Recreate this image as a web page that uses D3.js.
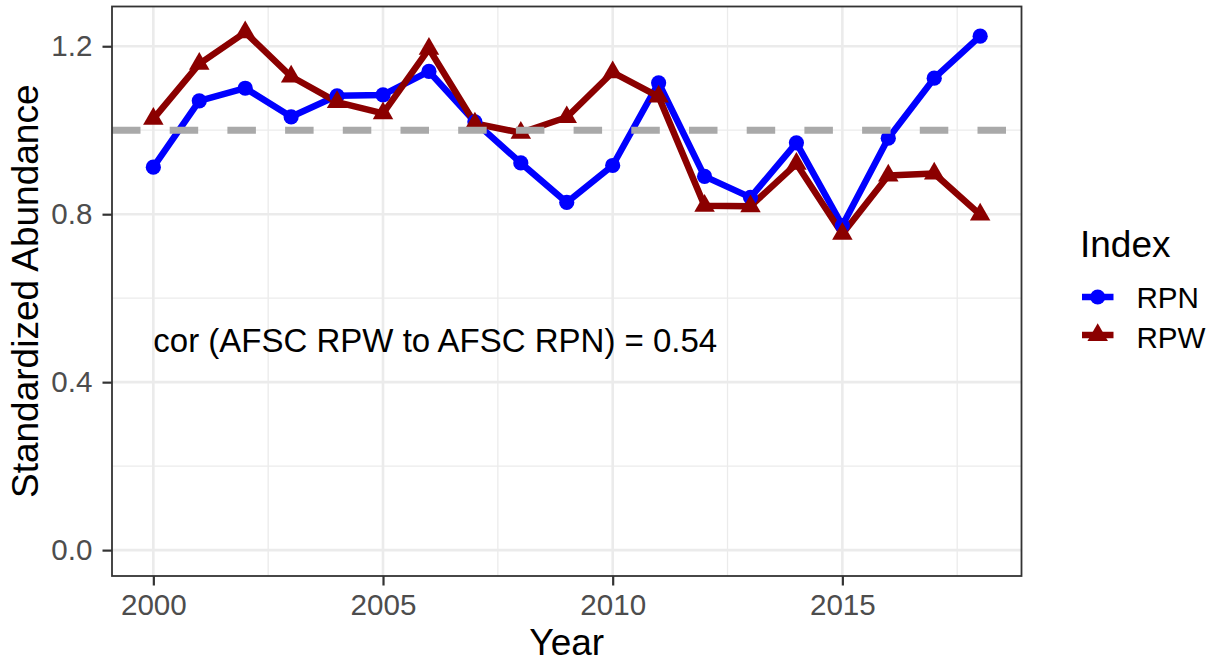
<!DOCTYPE html>
<html>
<head>
<meta charset="utf-8">
<script src="https://cdn.jsdelivr.net/npm/d3@7"></script>
<style>
  html, body { margin: 0; padding: 0; background: #fff; }
  text { font-family: "Liberation Sans", Arial, sans-serif; }
</style>
</head>
<body>
<svg id="chart" width="1213" height="662"></svg>
<script>
const years = [2000,2001,2002,2003,2004,2005,2006,2007,2008,2009,2010,2011,2012,2013,2014,2015,2016,2017,2018];
const rpn = [0.912,1.070,1.100,1.032,1.082,1.084,1.140,1.020,0.922,0.828,0.916,1.113,0.890,0.840,0.970,0.773,0.981,1.124,1.224];
const rpw = [1.027,1.158,1.233,1.128,1.067,1.040,1.194,1.016,0.994,1.031,1.138,1.080,0.820,0.819,0.920,0.753,0.892,0.897,0.799];
const xTicks = [2000,2005,2010,2015];
const xMinor = [2002.5,2007.5,2012.5,2017.5];
const yTicks = [0.0,0.4,0.8,1.2];
const yMinor = [0.2,0.6,1.0];
const refLine = 1.0;
const annotation = "cor (AFSC RPW to AFSC RPN) = 0.54";
const annoPos = {x: 2000, y: 0.5};
const seriesNames = ["RPN","RPW"];
const seriesColors = ["#0000FF","#8B0000"];
const legendTitle = "Index";
const xTitle = "Year";
const yTitle = "Standardized Abundance";

const svg = d3.select("#chart");
const panel = {left: 112, right: 1021.5, top: 6.5, bottom: 576};
const titleSize = 37, tickSize = 29.6, annoSize = 33;

const xr = d3.extent(years);
const xpad = (xr[1]-xr[0])*0.05;
const x = d3.scaleLinear().domain([xr[0]-xpad, xr[1]+xpad]).range([panel.left, panel.right]);
const yMax = d3.max(rpn.concat(rpw));
const ypad = (yMax-0)*0.05;
const y = d3.scaleLinear().domain([0-ypad, yMax+ypad]).range([panel.bottom, panel.top]);

const g = svg.append("g");
// minor grid
g.selectAll(".xminor").data(xMinor).enter().append("line")
  .attr("x1", d=>x(d)).attr("x2", d=>x(d)).attr("y1", panel.top).attr("y2", panel.bottom)
  .attr("stroke", "#EBEBEB").attr("stroke-width", 1.3);
g.selectAll(".yminor").data(yMinor).enter().append("line")
  .attr("y1", d=>y(d)).attr("y2", d=>y(d)).attr("x1", panel.left).attr("x2", panel.right)
  .attr("stroke", "#EBEBEB").attr("stroke-width", 1.3);
// major grid
g.selectAll(".xmajor").data(xTicks).enter().append("line")
  .attr("x1", d=>x(d)).attr("x2", d=>x(d)).attr("y1", panel.top).attr("y2", panel.bottom)
  .attr("stroke", "#EBEBEB").attr("stroke-width", 2.6);
g.selectAll(".ymajor").data(yTicks).enter().append("line")
  .attr("y1", d=>y(d)).attr("y2", d=>y(d)).attr("x1", panel.left).attr("x2", panel.right)
  .attr("stroke", "#EBEBEB").attr("stroke-width", 2.6);

// annotation
svg.append("text").attr("x", x(annoPos.x)).attr("y", y(annoPos.y))
  .attr("font-size", annoSize).attr("fill", "#000").attr("dominant-baseline", "central")
  .text(annotation);

// lines
const line = d3.line().x((d,i)=>x(years[i])).y(d=>y(d));
[rpn, rpw].forEach((s, k) => {
  svg.append("path").datum(s).attr("d", line).attr("fill", "none")
    .attr("stroke", seriesColors[k]).attr("stroke-width", 6.5)
    .attr("stroke-linejoin", "round").attr("stroke-linecap", "butt");
});
function triPath(cx, cy, rad) {
  const r = 1.555*rad, xc = 1.347*rad, yc = 0.778*rad;
  return `M${cx},${cy-r}L${cx+xc},${cy+yc}L${cx-xc},${cy+yc}Z`;
}
svg.selectAll(".pt-rpn").data(rpn).enter().append("circle")
  .attr("cx", (d,i)=>x(years[i])).attr("cy", d=>y(d)).attr("r", 7.6).attr("fill", seriesColors[0]);
svg.selectAll(".pt-rpw").data(rpw).enter().append("path")
  .attr("d", (d,i)=>triPath(x(years[i]), y(d), 7.6)).attr("fill", seriesColors[1]);

// reference dashed line
svg.append("line").attr("x1", panel.left).attr("x2", panel.right)
  .attr("y1", y(refLine)).attr("y2", y(refLine))
  .attr("stroke", "#A9A9A9").attr("stroke-width", 7)
  .attr("stroke-dasharray", "28.5 29.2");

// panel border
svg.append("rect").attr("x", panel.left).attr("y", panel.top)
  .attr("width", panel.right-panel.left).attr("height", panel.bottom-panel.top)
  .attr("fill", "none").attr("stroke", "#333333").attr("stroke-width", 1.8);

// axes
const xAxis = d3.axisBottom(x).tickValues(xTicks).tickFormat(d3.format("d")).tickSize(9.5).tickPadding(8.5);
const xg = svg.append("g").attr("transform", `translate(0,${panel.bottom})`).call(xAxis);
xg.select(".domain").remove();
xg.selectAll(".tick line").attr("stroke", "#333333").attr("stroke-width", 2.2);
xg.selectAll(".tick text").attr("fill", "#4D4D4D").attr("font-size", tickSize)
  .attr("font-family", "Liberation Sans, Arial, sans-serif");

const yAxis = d3.axisLeft(y).tickValues(yTicks).tickFormat(d3.format(".1f")).tickSize(9.5).tickPadding(10);
const yg = svg.append("g").attr("transform", `translate(${panel.left},0)`).call(yAxis);
yg.select(".domain").remove();
yg.selectAll(".tick line").attr("stroke", "#333333").attr("stroke-width", 2.2);
yg.selectAll(".tick text").attr("fill", "#4D4D4D").attr("font-size", tickSize)
  .attr("font-family", "Liberation Sans, Arial, sans-serif");

// titles
svg.append("text").attr("x", (panel.left+panel.right)/2).attr("y", 655)
  .attr("text-anchor", "middle").attr("font-size", titleSize).attr("fill", "#000").text(xTitle);
svg.append("text").attr("transform", `translate(38,${(panel.top+panel.bottom)/2}) rotate(-90)`)
  .attr("text-anchor", "middle").attr("font-size", titleSize).attr("fill", "#000").text(yTitle);

// legend
const lg = svg.append("g");
lg.append("text").attr("x", 1080).attr("y", 256.5).attr("font-size", titleSize).attr("fill", "#000").text(legendTitle);
const keyY = [297, 335];
const labelY = [308, 347.5];
seriesNames.forEach((nm, k) => {
  lg.append("line").attr("x1", 1082).attr("x2", 1113.5).attr("y1", keyY[k]).attr("y2", keyY[k])
    .attr("stroke", seriesColors[k]).attr("stroke-width", 6.5);
  if (k === 0) {
    lg.append("circle").attr("cx", 1097.7).attr("cy", keyY[k]).attr("r", 7.6).attr("fill", seriesColors[k]);
  } else {
    lg.append("path").attr("d", triPath(1097.7, keyY[k], 7.6)).attr("fill", seriesColors[k]);
  }
  lg.append("text").attr("x", 1136.5).attr("y", labelY[k]).attr("font-size", tickSize)
    .attr("fill", "#000").text(nm);
});
</script>
</body>
</html>
